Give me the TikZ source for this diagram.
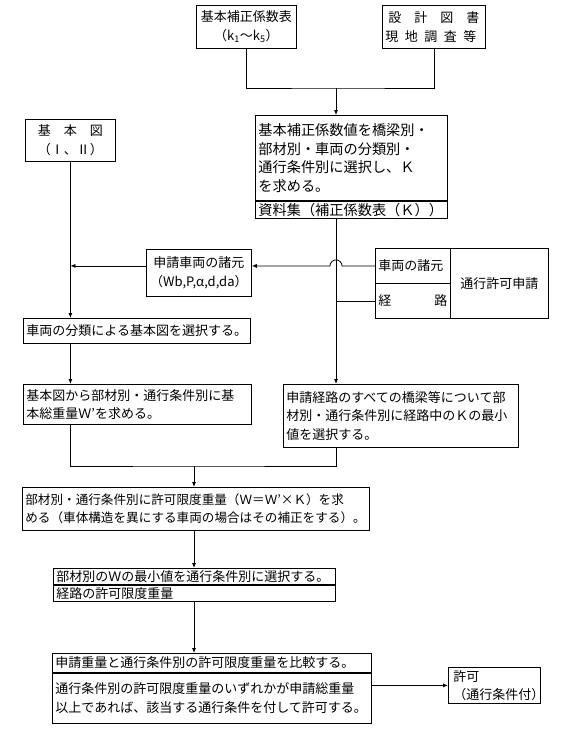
\documentclass[tikz,border=0pt]{standalone}
\usepackage{fontspec}
\setmainfont{Noto Sans CJK JP}
\usetikzlibrary{arrows.meta}

\begin{document}
\begin{tikzpicture}[x=1pt,y=1pt,yscale=-1,xscale=1,
  box/.style={draw, line width=0.8pt, inner xsep=3pt, inner ysep=0pt, anchor=north west, align=left, font=\fontsize{13}{18.5}\selectfont},
  arr/.style={-{Latex[length=5pt,width=4pt]}, line width=0.8pt},
  con/.style={line width=0.8pt}]
\path (0,0) rectangle (572,729); %set diagram size 572 x 729

%Shape: Rectangle (top)
\node[box, align=center, text width=94, minimum height=43] (hosei) at (196,5) {基本補正係数表\\（k\textsubscript{1}～k\textsubscript{5}）};
\node[box, align=center, text width=97, minimum height=43] (sekkei) at (382,5) {\hbox to 91pt{設\hfill 計\hfill 図\hfill 書}\\\hbox to 91pt{現\hfill 地\hfill 調\hfill 査\hfill 等}};
%Shape: Rectangle (K value)
\node[box, text width=186, minimum height=85, font=\fontsize{14.2}{18.5}\selectfont] (kval) at (255,115) {基本補正係数値を橋梁別・\\部材別・車両の分類別・\\通行条件別に選択し、Ｋ\\を求める。};
\node[box, text width=186, minimum height=17, font=\fontsize{14.2}{18.5}\selectfont] (shiryo) at (kval.south west) {資料集（補正係数表（Ｋ））};
%Shape: Rectangle (basic figure)
\node[box, align=center, text width=84, minimum height=42] (kihonzu) at (25,119) {基　本　図\\（Ⅰ、Ⅱ）};
\node[box, align=center, text width=99, minimum height=47] (shinsei) at (146,249) {申請車両の諸元\\（Wb,P,α,d,da）};
%Shape: Rectangle (application)
\node[box, text width=69, minimum height=35] (shoen) at (375,248) {車両の諸元};
\node[box, text width=69, minimum height=35] (keiro) at (375,283) {\hbox to 69pt{経\hfill 路}};
\node[box, align=center, text width=92, minimum height=70] (tsuko) at (450,248) {通行許可申請};
%Shape: Rectangle (left column)
\node[box, text width=221, minimum height=25] (bunrui) at (23,318) {車両の分類による基本図を選択する。};
\node[box, text width=222, minimum height=40] (kihonW) at (23,384) {基本図から部材別・通行条件別に基\\本総重量Ｗ’を求める。};
%Shape: Rectangle (route)
\node[box, text width=229, minimum height=63] (keiroK) at (283,384) {申請経路のすべての橋梁等について部\\材別・通行条件別に経路中のＫの最小\\値を選択する。};
%Shape: Rectangle (permissible weight)
\node[box, text width=341, minimum height=43, font=\fontsize{12.6}{18.5}\selectfont] (kyoka) at (22,487) {部材別・通行条件別に許可限度重量（Ｗ＝Ｗ’×Ｋ）を求\\める（車体構造を異にする車両の場合はその補正をする）。};
\node[box, text width=276, minimum height=16] (saisho) at (53,568) {部材別のＷの最小値を通行条件別に選択する。};
\node[box, text width=276, minimum height=16] (keiroW) at (saisho.south west) {経路の許可限度重量};
%Shape: Rectangle (comparison)
\node[box, text width=313, minimum height=19] (hikaku) at (52,653) {申請重量と通行条件別の許可限度重量を比較する。};
\node[box, text width=313, minimum height=50] (izure) at (hikaku.south west) {通行条件別の許可限度重量のいずれかが申請総重量\\以上であれば、該当する通行条件を付して許可する。};
\node[box, inner xsep=5pt, text width=82, minimum height=36] (kyokaOK) at (448,667) {許可\\（通行条件付）};

%Straight Lines
\coordinate (jtop) at (336,88);
\coordinate (jbot) at (194,466);
\draw[con] (hosei.south) |- (jtop) -| (sekkei.south);
\draw[arr] (jtop) -- (jtop |- kval.north);
\draw[arr] (kihonzu.south) -- (kihonzu.south |- bunrui.north);
\draw[arr] (bunrui.south -| kihonzu.south) -- (kihonzu.south |- kihonW.north);
% vehicle data, jumping over the route line
\draw[arr] (shoen.west) -- ([xshift=6]shoen.west -| jtop) arc[start angle=0, end angle=-180, radius=6] -- (shoen.west -| shinsei.east);
\draw[arr] (shinsei.west |- shoen.west) -- (shoen.west -| kihonzu.south);
\draw[con] (keiro.west) -- (keiro.west -| jtop);
\draw[arr] (shiryo.south -| jtop) -- (keiroK.north -| jtop);
\draw[con] (kihonW.south -| kihonzu.south) |- (jbot) -| (keiroK.south -| jtop);
\draw[arr] (jbot) -- (jbot |- kyoka.north);
\draw[arr] (kyoka.south -| jbot) -- (saisho.north -| jbot);
\draw[arr] (keiroW.south -| jbot) -- (hikaku.north -| jbot);
\draw[arr] (kyokaOK.west -| izure.east) -- (kyokaOK.west);

\end{tikzpicture}
\end{document}
